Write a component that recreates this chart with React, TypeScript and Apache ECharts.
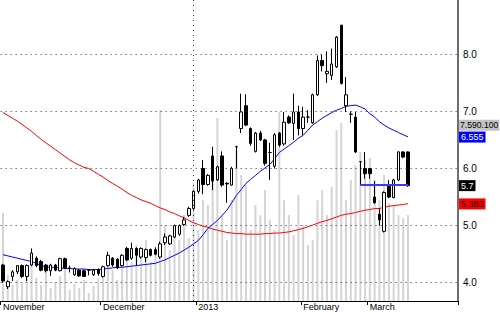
import React, { useEffect, useRef } from 'react';
import * as echarts from 'echarts';

// [open, close, low, high]
const candles: number[][] = [
  [4.31, 4.03, 4.0, 4.33], [3.93, 4.02, 3.89, 4.04], [4.11, 4.19, 4.03, 4.22], [4.19, 4.3, 4.15, 4.31],
  [4.3, 4.11, 4.08, 4.32], [4.11, 4.3, 4.03, 4.32], [4.31, 4.52, 4.29, 4.6], [4.43, 4.3, 4.27, 4.46],
  [4.37, 4.22, 4.2, 4.4], [4.31, 4.21, 4.18, 4.33], [4.21, 4.31, 4.12, 4.33], [4.31, 4.22, 4.2, 4.33],
  [4.21, 4.42, 4.2, 4.44], [4.42, 4.26, 4.24, 4.44], [4.25, 4.26, 4.18, 4.3], [4.14, 4.25, 4.12, 4.27],
  [4.22, 4.12, 4.1, 4.24], [4.21, 4.11, 4.1, 4.23], [4.22, 4.22, 4.13, 4.24], [4.14, 4.22, 4.12, 4.24],
  [4.23, 4.16, 4.12, 4.25], [4.11, 4.28, 4.09, 4.3], [4.3, 4.48, 4.28, 4.54], [4.43, 4.31, 4.28, 4.45],
  [4.41, 4.26, 4.24, 4.43], [4.3, 4.48, 4.28, 4.5], [4.6, 4.4, 4.38, 4.63], [4.43, 4.6, 4.4, 4.7],
  [4.6, 4.48, 4.3, 4.62], [4.45, 4.6, 4.42, 4.62], [4.44, 4.58, 4.36, 4.6], [4.58, 4.48, 4.46, 4.6],
  [4.58, 4.5, 4.48, 4.62], [4.45, 4.68, 4.42, 4.72], [4.7, 4.8, 4.66, 4.86], [4.68, 4.82, 4.66, 4.84],
  [4.8, 5.0, 4.78, 5.02], [4.85, 5.0, 4.82, 5.02], [5.02, 5.1, 5.0, 5.15], [5.18, 5.3, 5.15, 5.33],
  [5.3, 5.6, 5.28, 5.62], [5.6, 5.8, 5.56, 5.82], [6.0, 5.72, 5.55, 6.15], [5.72, 5.88, 5.7, 5.9],
  [6.22, 5.78, 5.62, 6.38], [5.8, 6.03, 5.78, 6.05], [6.22, 5.71, 5.68, 6.3], [5.74, 5.73, 5.4, 5.76],
  [5.71, 6.0, 5.7, 6.03], [6.38, 6.38, 6.0, 6.4], [6.7, 6.99, 6.62, 7.31], [7.1, 6.76, 6.74, 7.3],
  [6.7, 6.44, 6.4, 6.72], [6.3, 6.62, 6.28, 6.64], [6.62, 6.5, 6.48, 6.66], [6.5, 6.09, 6.05, 6.52],
  [6.28, 6.28, 5.8, 6.45], [6.04, 6.59, 6.0, 6.62], [6.62, 6.41, 6.38, 6.64], [6.43, 6.81, 6.4, 6.99],
  [6.9, 6.8, 6.78, 6.93], [6.79, 6.99, 6.5, 7.31], [6.99, 6.7, 6.58, 7.1], [6.7, 6.9, 6.58, 7.08],
  [6.9, 6.9, 6.8, 7.02], [6.8, 7.29, 6.78, 7.31], [7.29, 7.89, 7.27, 7.98], [7.89, 7.8, 7.7, 8.0],
  [7.66, 7.7, 7.5, 8.05], [7.63, 7.83, 7.55, 8.1], [7.78, 8.3, 7.76, 8.32], [8.51, 7.49, 7.47, 8.51],
  [7.1, 7.29, 6.99, 7.6], [6.95, 6.95, 6.8, 7.0], [6.9, 6.29, 6.27, 6.99], [6.12, 6.12, 5.71, 6.12],
  [6.0, 5.91, 5.82, 6.29], [6.0, 5.91, 5.82, 6.0], [5.5, 5.4, 5.38, 5.78], [5.2, 5.1, 5.0, 5.3],
  [4.9, 5.58, 4.88, 5.6], [5.71, 5.5, 5.48, 5.8], [5.49, 5.8, 5.48, 5.82], [5.8, 6.29, 5.78, 6.3],
  [6.29, 6.2, 6.18, 6.3], [6.29, 5.7, 5.68, 6.3],
];

const volumes = [
  3800000, 1120000, 690000, 910000, 780000, 1340000, 1680000, 990000, 690000, 1340000,
  560000, 820000, 1080000, 1430000, 480000, 730000, 560000, 910000, 350000, 650000,
  990000, 1250000, 1680000, 1340000, 910000, 1430000, 1990000, 1680000, 2420000, 1860000,
  2630000, 1680000, 2200000, 8250000, 3280000, 2200000, 2940000, 2630000, 3710000, 2720000,
  5100000, 3070000, 4360000, 4150000, 6180000, 7900000, 3710000, 2630000, 4360000, 6520000,
  5440000, 5010000, 3070000, 4150000, 3710000, 4790000, 3500000, 3070000, 8160000, 4360000,
  3710000, 2850000, 4580000, 3280000, 2420000, 2630000, 4360000, 4790000, 3710000, 4920000,
  7390000, 7690000, 4360000, 5230000, 5870000, 6440000, 6090000, 6180000, 5230000, 4360000,
  5440000, 4230000, 4150000, 3710000, 3580000, 3710000,
];

const maShort = [
  4.49, 4.47, 4.45, 4.43, 4.41, 4.39, 4.37, 4.34, 4.3, 4.28,
  4.27, 4.27, 4.26, 4.25, 4.25, 4.24, 4.24, 4.24, 4.23, 4.23,
  4.23, 4.24, 4.25, 4.26, 4.27, 4.27, 4.28, 4.29, 4.3, 4.31,
  4.32, 4.33, 4.34, 4.37, 4.4, 4.44, 4.48, 4.52, 4.57, 4.62,
  4.68, 4.74, 4.84, 4.95, 5.02, 5.09, 5.18, 5.27, 5.4, 5.53,
  5.63, 5.74, 5.81, 5.88, 5.95, 6.01, 6.07, 6.17, 6.28, 6.34,
  6.4, 6.46, 6.53, 6.58, 6.67, 6.76, 6.82, 6.88, 6.93, 6.98,
  7.02, 7.05, 7.09, 7.1, 7.11, 7.08, 7.04, 6.96, 6.9, 6.82,
  6.76, 6.71, 6.67, 6.63, 6.59, 6.555,
];

const maLong = [
  6.98, 6.93, 6.88, 6.83, 6.77, 6.71, 6.65, 6.58, 6.51, 6.45,
  6.39, 6.33, 6.27, 6.21, 6.15, 6.1, 6.06, 6.02, 6.0, 5.95,
  5.9, 5.85, 5.79, 5.74, 5.69, 5.64, 5.58, 5.53, 5.49, 5.45,
  5.42, 5.39, 5.35, 5.31, 5.28, 5.24, 5.21, 5.17, 5.14, 5.09,
  5.05, 5.02, 4.99, 4.97, 4.94, 4.92, 4.9, 4.88, 4.87, 4.86,
  4.86, 4.85, 4.85, 4.85, 4.85, 4.86, 4.86, 4.87, 4.87, 4.88,
  4.89, 4.91, 4.93, 4.95, 4.98, 5.01, 5.04, 5.07, 5.09, 5.12,
  5.15, 5.18, 5.2, 5.21, 5.23, 5.25, 5.27, 5.28, 5.3, 5.3,
  5.32, 5.34, 5.35, 5.36, 5.37, 5.383,
];

const monthTickIndex = [0, 21, 41, 63, 77];
const monthTickLabel = ['November', 'December', '2013', 'February', 'March'];
const priceGridValues = [4, 5, 6, 7, 8];
const yearLineIndex = 40;
const lastVolume = 7590100;
const levelValue = 5.71;
const levelFrom = 75;
const emptySlots = 10;

const FONT = 'Liberation Sans, Arial, sans-serif';

function fmtVolume(v: number) {
  return String(v).replace(/\B(?=(\d{3})+(?!\d))/g, '.');
}

function tagLabel(text: string, bg: string, fg: string) {
  return {
    show: true,
    position: 'end',
    distance: 1,
    formatter: () => text,
    backgroundColor: bg,
    color: fg,
    padding: [1, 2, 0, 2],
    fontSize: 9,
    lineHeight: 10,
    fontFamily: FONT,
  };
}

export default function App() {
  const ref = useRef<HTMLDivElement>(null);

  useEffect(() => {
    if (!ref.current) return;
    const chart = echarts.init(ref.current, undefined, { renderer: 'svg' });
    const total = candles.length + emptySlots;
    const categories = Array.from({ length: total }, (_, i) => 'day' + i);
    const isTick = (i: number) => monthTickIndex.indexOf(i) >= 0;
    const lastClose = candles[candles.length - 1][1];
    const lastShort = maShort[maShort.length - 1];
    const lastLong = maLong[maLong.length - 1];
    const lastIndex = candles.length - 1;

    const option: any = {
      animation: false,
      backgroundColor: '#ffffff',
      grid: { left: 0, right: 42, top: 0, bottom: 11, containLabel: false },
      xAxis: {
        type: 'category',
        data: categories,
        boundaryGap: true,
        axisLine: { onZero: false, lineStyle: { color: '#000', width: 1 } },
        axisTick: { show: true, interval: (i: number) => isTick(i), length: 4, lineStyle: { color: '#000' } },
        axisLabel: {
          interval: (i: number) => isTick(i),
          formatter: (_v: string, i: number) => {
            const k = monthTickIndex.indexOf(i);
            return k >= 0 ? monthTickLabel[k] : '';
          },
          align: 'left',
          margin: 1,
          fontSize: 9,
          color: '#000',
          fontFamily: FONT,
        },
        splitLine: { show: false },
      },
      yAxis: [
        {
          type: 'value',
          position: 'right',
          min: 3.68,
          max: 8.95,
          axisLine: { show: true, lineStyle: { color: '#6e6e6e', width: 2 } },
          axisTick: { show: false },
          axisLabel: { show: false },
          splitLine: { show: false },
        },
        { type: 'value', min: 0, max: 13000000, show: false, splitLine: { show: false } },
      ],
      series: [
        {
          name: 'grid',
          type: 'line',
          data: [],
          z: 0,
          silent: true,
          markLine: {
            silent: true,
            symbol: ['none', 'none'],
            lineStyle: { color: '#333', type: [1, 4], width: 1 },
            label: {
              show: true,
              position: 'end',
              distance: 5,
              formatter: (p: any) => Number(p.value).toFixed(1),
              color: '#000',
              fontSize: 10,
              fontFamily: FONT,
            },
            data: [
              ...priceGridValues.map((v) => ({ yAxis: v })),
              { xAxis: yearLineIndex, label: { show: false } },
            ],
          },
        },
        {
          name: 'volume',
          type: 'bar',
          yAxisIndex: 1,
          data: volumes,
          barWidth: 2,
          itemStyle: { color: '#d4d4d4' },
          z: 1,
          silent: true,
          markLine: {
            silent: true,
            symbol: ['none', 'none'],
            lineStyle: { width: 0, color: 'rgba(0,0,0,0)' },
            label: { ...tagLabel(fmtVolume(lastVolume), '#c3c3c3', '#000'), padding: [1, 1, 0, 1], fontSize: 8.6 },
            data: [{ yAxis: lastVolume }],
          },
        },
        {
          name: 'maLong',
          type: 'line',
          data: maLong,
          showSymbol: false,
          symbol: 'none',
          lineStyle: { color: '#ff0000', width: 1 },
          z: 3,
          silent: true,
          markLine: {
            silent: true,
            symbol: ['none', 'none'],
            lineStyle: { width: 0, color: 'rgba(0,0,0,0)' },
            label: tagLabel(String(lastLong), '#ff0000', '#000'),
            data: [{ yAxis: lastLong }],
          },
        },
        {
          name: 'maShort',
          type: 'line',
          data: maShort,
          showSymbol: false,
          symbol: 'none',
          lineStyle: { color: '#0000ff', width: 1 },
          z: 3,
          silent: true,
          markLine: {
            silent: true,
            symbol: ['none', 'none'],
            data: [
              {
                yAxis: lastShort,
                lineStyle: { width: 0, color: 'rgba(0,0,0,0)' },
                label: tagLabel(String(lastShort), '#0000ff', '#fff'),
              },
              [
                { coord: [levelFrom, levelValue], lineStyle: { color: '#3a3aff', width: 2, type: 'solid' }, label: { show: false } },
                { coord: [lastIndex, levelValue] },
              ],
            ],
          },
        },
        {
          name: 'price',
          type: 'candlestick',
          data: candles,
          barWidth: 3,
          z: 4,
          silent: true,
          itemStyle: { color: '#ffffff', color0: '#000000', borderColor: '#000000', borderColor0: '#000000', borderWidth: 1 },
          markLine: {
            silent: true,
            symbol: ['none', 'none'],
            lineStyle: { width: 0, color: 'rgba(0,0,0,0)' },
            label: tagLabel(String(lastClose), '#000', '#fff'),
            data: [{ yAxis: lastClose }],
          },
        },
      ],
    };
    chart.setOption(option);
    return () => chart.dispose();
  }, []);

  return <div ref={ref} style={{ position: 'fixed', left: 0, top: 0, width: 500, height: 312, background: '#fff' }} />;
}
